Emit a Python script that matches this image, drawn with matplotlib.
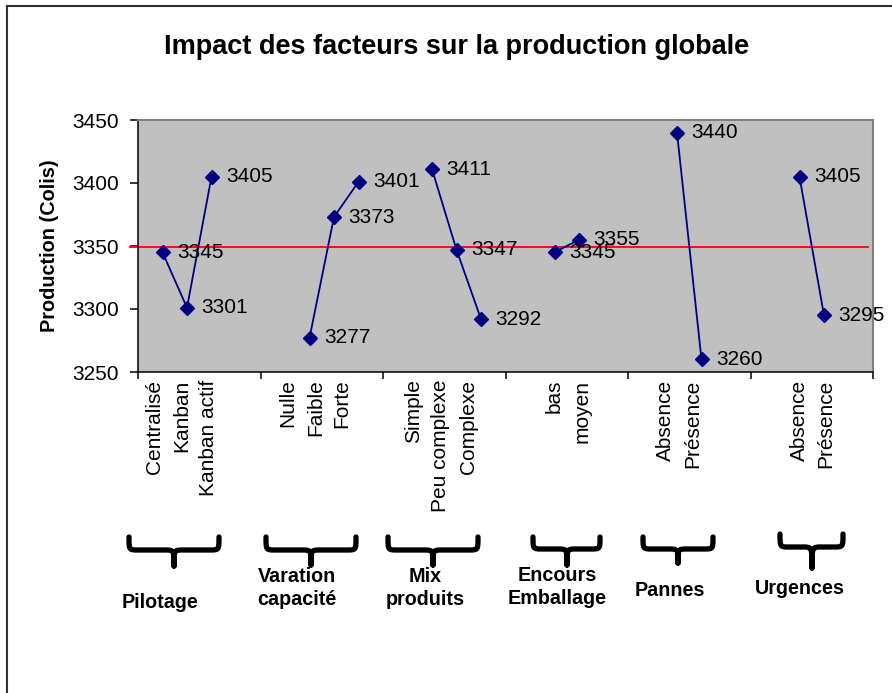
import matplotlib.pyplot as plt
from matplotlib.path import Path
from matplotlib.patches import PathPatch
from matplotlib.lines import Line2D
import matplotlib.transforms as mtransforms

plt.rcParams['font.family'] = ['Liberation Sans', 'DejaVu Sans']

# facteurs et niveaux testés
groupes = ["Pilotage", "Varation\ncapacité", "Mix\nproduits",
           "Encours\nEmballage", "Pannes", "Urgences"]
niveaux = [["Centralisé", "Kanban", "Kanban actif"],
           ["Nulle", "Faible", "Forte"],
           ["Simple", "Peu complexe", "Complexe"],
           ["bas", "moyen"],
           ["Absence", "Présence"],
           ["Absence", "Présence"]]
production = [[3345, 3301, 3405],
              [3277, 3373, 3401],
              [3411, 3347, 3292],
              [3345, 3355],
              [3440, 3260],
              [3405, 3295]]
moyenne = 3349.5

# position de la 1re catégorie de chaque groupe sur l'axe (30 catégories)
debut_groupe = [1, 7, 12, 17, 22, 27]
# position des libellés de niveaux (texte vertical)
pos_libelles = [[0.69, 1.77, 2.87], [6.13, 7.26, 8.31], [11.24, 12.33, 13.48],
                [16.98, 18.14], [21.54, 22.63], [26.98, 28.08]]

W, H = 892, 693
fig = plt.figure(figsize=(W / 100, H / 100), dpi=100)
ax = fig.add_axes([138 / W, 1 - 372 / H, 735 / W, 252 / H])
ax.set_facecolor('#c0c0c0')

navy = '#000080'
for g, vals in enumerate(production):
    xs = [debut_groupe[g] + i for i in range(len(vals))]
    ax.plot(xs, vals, color=navy, lw=1.3, marker='D', ms=7.5,
            mfc=navy, mec=navy, clip_on=False, zorder=3)
    for x, v in zip(xs, vals):
        ax.annotate(str(v), (x, v), xytext=(10.5, 0), textcoords='offset points',
                    ha='left', va='center', fontsize=15, color='black', zorder=4)

# ligne de la moyenne
trans = mtransforms.blended_transform_factory(ax.transAxes, ax.transData)
ax.plot([-0.011, 0.993], [moyenne, moyenne], color='#ff0000', lw=1.3,
        transform=trans, clip_on=False, zorder=2)

ax.set_xlim(0, 30)
ax.set_ylim(3250, 3450)
ax.set_yticks([3250, 3300, 3350, 3400, 3450])
ax.set_xticks(range(0, 31, 5))
ax.set_xticklabels([])
ax.tick_params(axis='y', direction='out', length=6, width=1.1, pad=8, labelsize=15)
ax.tick_params(axis='x', direction='out', length=5, width=1.1)
for s in ['left', 'bottom']:
    ax.spines[s].set_color('black')
    ax.spines[s].set_linewidth(1.1)
for s in ['top', 'right']:
    ax.spines[s].set_color('#808080')
    ax.spines[s].set_linewidth(1.5)

# libellés de niveaux, verticaux sous l'axe
tlab = mtransforms.blended_transform_factory(ax.transData, ax.transAxes)
for noms, pos in zip(niveaux, pos_libelles):
    for nom, x in zip(noms, pos):
        ax.text(x, -0.03, nom, transform=tlab, rotation=90, ha='center',
                va='top', fontsize=15)

fig.text(457 / W, 1 - 47 / H, "Impact des facteurs sur la production globale",
         ha='center', va='center', fontsize=19.5, fontweight='bold')
fig.text(50 / W, 1 - 246 / H, "Production (Colis)", rotation=90,
         ha='center', va='center', fontsize=14.3, fontweight='bold')


def accolade(x0, x1, xm, ytop, ybar, ytip):
    # accolade horizontale ouverte vers le bas, coordonnées en pixels
    r = 9
    def p(x, y):
        return (x / W, 1 - y / H)
    verts = [p(x0, ytop), p(x0, ybar), p(x0, ybar), p(x0 + r, ybar),
             p(xm - r, ybar), p(xm, ybar), p(xm, ybar), p(xm, ytip),
             p(x1, ytop), p(x1, ybar), p(x1, ybar), p(x1 - r, ybar),
             p(xm + r, ybar), p(xm, ybar), p(xm, ybar), p(xm, ytip)]
    codes = [Path.MOVETO, Path.CURVE4, Path.CURVE4, Path.CURVE4,
             Path.LINETO, Path.CURVE4, Path.CURVE4, Path.CURVE4,
             Path.MOVETO, Path.CURVE4, Path.CURVE4, Path.CURVE4,
             Path.LINETO, Path.CURVE4, Path.CURVE4, Path.CURVE4]
    fig.patches.append(PathPatch(Path(verts, codes), transform=fig.transFigure,
                                 fill=False, lw=3.8, color='black',
                                 capstyle='round', joinstyle='round'))


accolades = [(129, 219, 174, 537, 550, 566),
             (266, 356, 311, 537, 550, 565),
             (388, 478, 433, 537, 550, 565),
             (533, 600, 567, 537, 549, 565),
             (643, 713, 678, 537, 549, 563),
             (780, 843, 812, 534, 547, 568)]
for a in accolades:
    accolade(*a)

pos_groupes = [(160, 602), (297, 588), (425, 588), (557, 587), (670, 590), (800, 588)]
for nom, (x, y) in zip(groupes, pos_groupes):
    fig.text(x / W, 1 - y / H, nom, ha='center', va='center', fontsize=14.2,
             fontweight='bold', linespacing=1.25)

# cadre du graphique
fig.add_artist(Line2D([7 / W, 7 / W], [0, 1 - 6 / H], color='#303030', lw=1.5))
fig.add_artist(Line2D([7 / W, 1], [1 - 6 / H, 1 - 6 / H], color='#303030', lw=1.5))

fig.savefig('out.png', dpi=100)
